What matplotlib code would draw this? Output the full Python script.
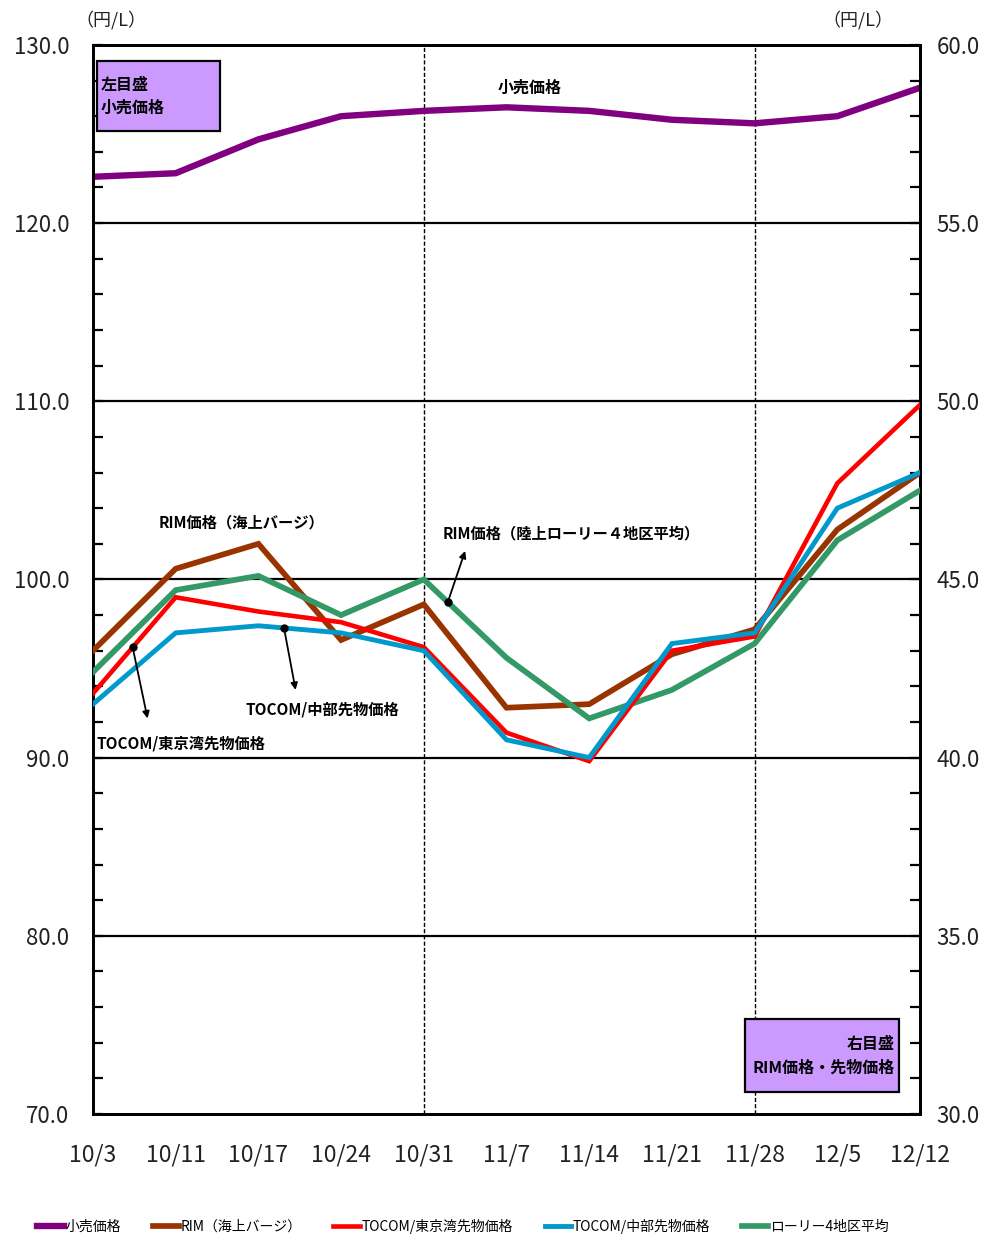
"""Weekly retail vs. RIM / TOCOM prices, twin-axis line chart."""

import matplotlib
matplotlib.use("Agg")
import matplotlib.pyplot as plt
from matplotlib.ticker import MultipleLocator, FormatStrFormatter
from matplotlib.patches import Rectangle

plt.rcParams["font.family"] = ["Noto Sans CJK JP", "DejaVu Sans"]

DATES = ["10/3", "10/11", "10/17", "10/24", "10/31", "11/7",
         "11/14", "11/21", "11/28", "12/5", "12/12"]
# left scale (円/L)
RETAIL = [122.6, 122.8, 124.7, 126.0, 126.3, 126.5, 126.3, 125.8, 125.6, 126.0, 127.6]
# right scale (円/L)
RIM_BARGE = [43.0, 45.3, 46.0, 43.3, 44.3, 41.4, 41.5, 42.9, 43.6, 46.4, 48.0]
TOCOM_TOKYO = [41.8, 44.5, 44.1, 43.8, 43.1, 40.7, 39.9, 43.0, 43.4, 47.7, 49.9]
TOCOM_CHUBU = [41.5, 43.5, 43.7, 43.5, 43.0, 40.5, 40.0, 43.2, 43.5, 47.0, 48.0]
LORRY_AVG = [42.4, 44.7, 45.1, 44.0, 45.0, 42.8, 41.1, 41.9, 43.2, 46.1, 47.5]

C_RETAIL = "#800080"
C_BARGE = "#993300"
C_TOKYO = "#ff0000"
C_CHUBU = "#0099cc"
C_LORRY = "#339966"
BOX_FC = "#cc99ff"

fig = plt.figure(figsize=(9.91, 12.38), dpi=100)
ax = fig.add_axes([0.0938, 0.1002, 0.8346, 0.8635])
ax2 = ax.twinx()

x = list(range(len(DATES)))

# left axis: retail
ax.set_xlim(0, len(DATES) - 1)
ax.set_ylim(70, 130)
ax.yaxis.set_major_locator(MultipleLocator(10))
ax.yaxis.set_minor_locator(MultipleLocator(2))
ax.yaxis.set_major_formatter(FormatStrFormatter("%.1f"))
ax.set_xticks(x)
ax.set_xticklabels(DATES)
for yv in range(80, 130, 10):
    ax.axhline(yv, color="black", lw=1.6, zorder=1)
for xv in (4, 8):
    ax.axvline(xv, color="black", lw=1.0, ls=(0, (3, 1.5)), zorder=1)

# right axis: RIM / futures
ax2.set_ylim(30, 60)
ax2.yaxis.set_major_locator(MultipleLocator(5))
ax2.yaxis.set_minor_locator(MultipleLocator(1))
ax2.yaxis.set_major_formatter(FormatStrFormatter("%.1f"))

for a in (ax, ax2):
    for s in a.spines.values():
        s.set_linewidth(2)
ax.tick_params(axis="y", which="major", direction="in", length=7, width=1.6,
               labelsize=16, pad=17)
ax.tick_params(axis="y", which="minor", direction="in", length=7, width=1.6)
ax.tick_params(axis="x", length=0, labelsize=16.5, pad=21)
ax2.tick_params(axis="y", which="major", direction="in", length=7, width=1.6,
                labelsize=16, pad=12)
ax2.tick_params(axis="y", which="minor", direction="in", length=7, width=1.6)
for lab in ax.get_yticklabels() + ax2.get_yticklabels() + ax.get_xticklabels():
    lab.set_color("#222222")

l_retail, = ax.plot(x, RETAIL, color=C_RETAIL, lw=4.6, zorder=5,
                    solid_joinstyle="miter")
l_barge, = ax2.plot(x, RIM_BARGE, color=C_BARGE, lw=4.1, zorder=3,
                    solid_joinstyle="miter")
l_lorry, = ax2.plot(x, LORRY_AVG, color=C_LORRY, lw=4.1, zorder=4,
                    solid_joinstyle="miter")
l_tokyo, = ax2.plot(x, TOCOM_TOKYO, color=C_TOKYO, lw=3.3, zorder=5,
                    solid_joinstyle="miter")
l_chubu, = ax2.plot(x, TOCOM_CHUBU, color=C_CHUBU, lw=3.5, zorder=6,
                    solid_joinstyle="miter")

# unit labels
fig.text(75 / 991, 1 - 20 / 1238, "（円/L）", fontsize=13, ha="left", va="center",
         color="#222222")
fig.text(893 / 991, 1 - 20 / 1238, "（円/L）", fontsize=13, ha="right", va="center",
         color="#222222")

# scale boxes
ax2.add_patch(Rectangle((4 / 827, 1 - 86 / 1069), 123 / 827, 70 / 1069,
                        transform=ax.transAxes, fc=BOX_FC, ec="black", lw=1.6, zorder=7))
ax2.text(8 / 827, 1 - 40 / 1069, "左目盛", transform=ax.transAxes, fontsize=11.5,
         fontweight="bold", va="center", ha="left", zorder=8)
ax2.text(8 / 827, 1 - 63 / 1069, "小売価格", transform=ax.transAxes, fontsize=11.5,
         fontweight="bold", va="center", ha="left", zorder=8)
ax2.add_patch(Rectangle((652 / 827, 1 - 1047 / 1069), 154 / 827, 73 / 1069,
                        transform=ax.transAxes, fc=BOX_FC, ec="black", lw=1.6, zorder=7))
ax2.text(802 / 827, 1 - 999 / 1069, "右目盛", transform=ax.transAxes, fontsize=11.5,
         fontweight="bold", va="center", ha="right", zorder=8)
ax2.text(802 / 827, 1 - 1023 / 1069, "RIM価格・先物価格", transform=ax.transAxes,
         fontsize=11.5, fontweight="bold", va="center", ha="right", zorder=8)

# series labels
ax.text(5.28, 127.6, "小売価格", fontsize=11.5, fontweight="bold", ha="center",
        va="center", zorder=8)
ax2.text(0.8, 46.6, "RIM価格（海上バージ）", fontsize=11, fontweight="bold",
         ha="left", va="center", zorder=8)

arrow = dict(arrowstyle="-|>", color="black", lw=1.3, mutation_scale=10,
             shrinkA=0, shrinkB=0)


def callout(x0, series, tx, ty, label, lx, ly, ha="left"):
    # dot on the line at x0, arrow pointing to (tx, ty), label at (lx, ly)
    i = int(x0)
    y0 = series[i] + (series[i + 1] - series[i]) * (x0 - i)
    ax2.plot([x0], [y0], "o", color="black", ms=5, zorder=9)
    ax2.annotate("", xy=(tx, ty), xytext=(x0, y0), arrowprops=arrow, zorder=9)
    ax2.text(lx, ly, label, fontsize=11, fontweight="bold", ha=ha, va="center",
             zorder=9)


callout(0.48, TOCOM_TOKYO, 0.66, 41.1, "TOCOM/東京湾先物価格", 0.04, 40.4)
callout(2.31, TOCOM_CHUBU, 2.45, 41.9, "TOCOM/中部先物価格", 1.84, 41.35)
callout(4.29, LORRY_AVG, 4.5, 45.8, "RIM価格（陸上ローリー４地区平均）", 4.23, 46.3)

fig.legend([l_retail, l_barge, l_tokyo, l_chubu, l_lorry],
           ["小売価格", "RIM（海上バージ）", "TOCOM/東京湾先物価格",
            "TOCOM/中部先物価格", "ローリー4地区平均"],
           loc="center", bbox_to_anchor=(0.467, 1 - 1226 / 1238), ncol=5,
           frameon=False, fontsize=10, handlelength=1.9, handletextpad=0.1,
           columnspacing=2.3)

fig.savefig("out.png", dpi=100)
